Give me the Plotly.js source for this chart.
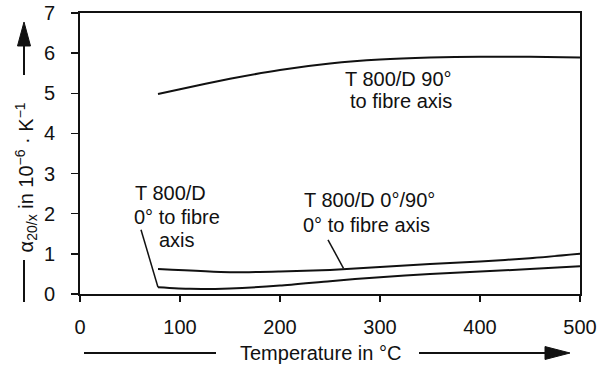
<!DOCTYPE html>
<html>
<head>
<meta charset="utf-8">
<script src="https://cdn.plot.ly/plotly-3.0.1.min.js"></script>
<style>html,body{margin:0;padding:0;background:#fff;}#chart{width:611px;height:368px;}</style>
</head>
<body>
<div id="chart"></div>
<script>
// Temperature (°C)
const temp90 = [78, 100, 150, 200, 250, 300, 350, 400, 450, 500];
const alpha90 = [4.98, 5.10, 5.36, 5.58, 5.74, 5.84, 5.89, 5.91, 5.91, 5.89];

const temp090 = [78, 150, 200, 250, 300, 350, 400, 450, 500];
const alpha090 = [0.62, 0.54, 0.56, 0.60, 0.67, 0.75, 0.81, 0.89, 1.00];

const temp0 = [78, 110, 150, 200, 250, 300, 350, 400, 450, 500];
const alpha0 = [0.17, 0.13, 0.14, 0.21, 0.32, 0.42, 0.50, 0.56, 0.62, 0.69];

// leader lines from labels to curves
const leader0X = [61, 78];
const leader0Y = [1.60, 0.17];
const leader090X = [248, 263.5];
const leader090Y = [1.35, 0.64];

const xTicks = [0, 100, 200, 300, 400, 500];
const yTicks = [0, 1, 2, 3, 4, 5, 6, 7];

const FONT = 'Liberation Sans, Arial, Helvetica, sans-serif';
const lineStyle = {color: '#111', width: 2, shape: 'spline', smoothing: 0.6};
const leaderStyle = {color: '#111', width: 1.5};

const traces = [
  {x: temp90, y: alpha90, mode: 'lines', line: lineStyle, name: 'T 800/D 90°'},
  {x: temp090, y: alpha090, mode: 'lines', line: lineStyle, name: 'T 800/D 0°/90°'},
  {x: temp0, y: alpha0, mode: 'lines', line: lineStyle, name: 'T 800/D 0°'},
  {x: leader0X, y: leader0Y, mode: 'lines', line: leaderStyle, cliponaxis: false},
  {x: leader090X, y: leader090Y, mode: 'lines', line: leaderStyle}
];

function lab(text, x, y) {
  return {text: text, x: x, y: y, xref: 'x', yref: 'y', xanchor: 'left', yanchor: 'middle',
          showarrow: false, font: {family: FONT, size: 20, color: '#111'}};
}

const annotations = [
  lab('T 800/D 90°', 263, 5.36),
  lab('to fibre axis', 268, 4.81),
  lab('T 800/D', 53, 2.51),
  lab('0° to fibre', 52, 1.93),
  lab('axis', 77, 1.35),
  lab('T 800/D 0°/90°', 221.5, 2.34),
  lab('0° to fibre axis', 221, 1.72),
  {text: 'Temperature in °C', x: 0.48, y: -0.21, xref: 'paper', yref: 'paper',
   xanchor: 'center', yanchor: 'middle', showarrow: false,
   font: {family: FONT, size: 20, color: '#111'}},
  {text: 'α<sub>20/x</sub> in 10<sup>−6</sup> · K<sup>−1</sup>', x: -0.108, y: 0.415,
   xref: 'paper', yref: 'paper', xanchor: 'center', yanchor: 'middle', textangle: -90,
   showarrow: false, font: {family: FONT, size: 20, color: '#111'}}
];

const shapes = [
  {type: 'line', xref: 'paper', yref: 'paper', x0: -0.112, x1: -0.112, y0: -0.0285, y1: 0.121, line: {color: '#111', width: 2}},
  {type: 'line', xref: 'paper', yref: 'paper', x0: -0.112, x1: -0.112, y0: 0.7794, y1: 0.90, line: {color: '#111', width: 2}},
  {type: 'path', xref: 'paper', yref: 'paper', path: 'M -0.125 0.8826 L -0.099 0.8826 L -0.112 0.968 Z', fillcolor: '#111', line: {color: '#111', width: 1}},
  {type: 'line', xref: 'paper', yref: 'paper', x0: 0.008, x1: 0.272, y0: -0.21, y1: -0.21, line: {color: '#111', width: 2}},
  {type: 'line', xref: 'paper', yref: 'paper', x0: 0.678, x1: 0.94, y0: -0.21, y1: -0.21, line: {color: '#111', width: 2}},
  {type: 'path', xref: 'paper', yref: 'paper', path: 'M 0.93 -0.187 L 0.93 -0.233 L 0.98 -0.21 Z', fillcolor: '#111', line: {color: '#111', width: 1}}
];

const layout = {
  width: 611, height: 368,
  margin: {l: 80, r: 31, t: 13, b: 74, pad: 0},
  paper_bgcolor: '#fff', plot_bgcolor: '#fff',
  showlegend: false,
  font: {family: FONT, size: 20, color: '#111'},
  xaxis: {range: [0, 500], tickvals: xTicks, ticktext: xTicks.map(String), ticks: 'outside', ticklen: 6, tickwidth: 1.5,
          tickcolor: '#111', showline: true, linecolor: '#111', linewidth: 2, mirror: true, showgrid: false, zeroline: false,
          ticklabelstandoff: 8, tickfont: {family: FONT, size: 20, color: '#111'}},
  yaxis: {range: [0, 7], tickvals: yTicks, ticktext: yTicks.map(String), ticks: 'outside', ticklen: 7, tickwidth: 1.5,
          tickcolor: '#111', showline: true, linecolor: '#111', linewidth: 2, mirror: true, showgrid: false, zeroline: false,
          ticklabelstandoff: 12, tickfont: {family: FONT, size: 20, color: '#111'}},
  annotations: annotations,
  shapes: shapes
};

Plotly.newPlot('chart', traces, layout, {staticPlot: true, displayModeBar: false});
</script>
</body>
</html>
